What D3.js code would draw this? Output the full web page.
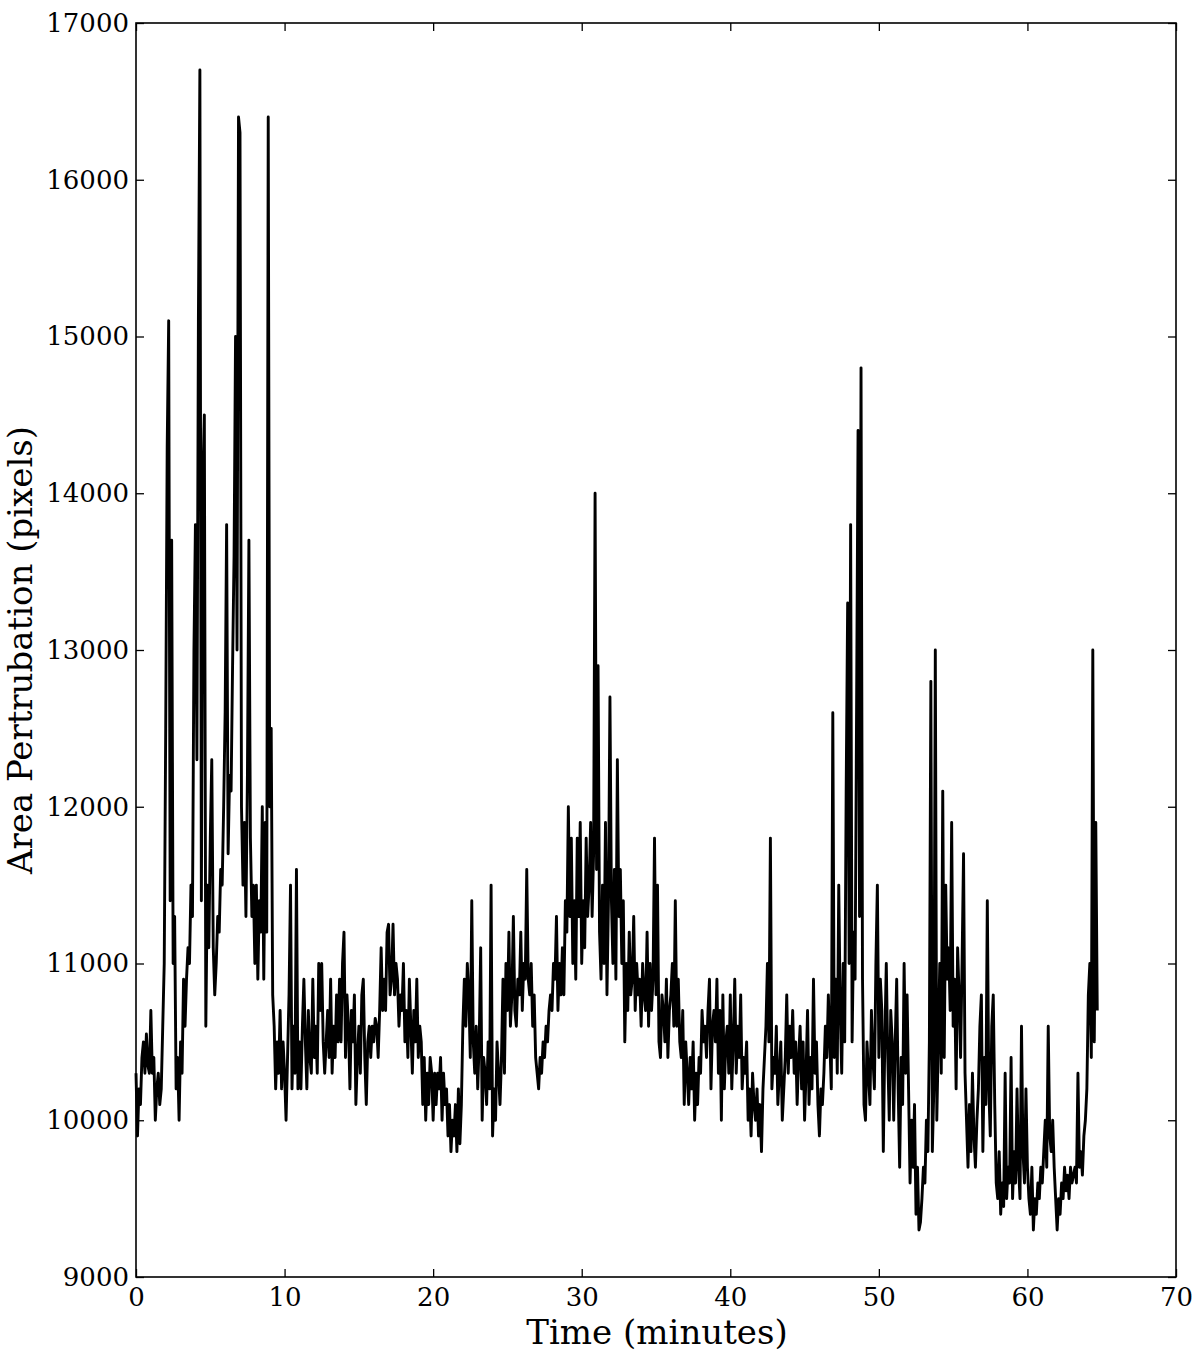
<!DOCTYPE html>
<html><head><meta charset="utf-8">
<script src="https://cdn.jsdelivr.net/npm/d3@7"></script>
<style>body{margin:0;background:#fff}svg{display:block}</style>
</head><body>
<script>
// Sampling: one value every 0.1 minute, starting at t = 0
const sampleStep = 0.1;
const areaValues = [
// 0
10300,9900,10200,10100,10400,10500,10300,10550,10350,10300,
// 1
10700,10300,10400,10000,10200,10300,10100,10200,10600,11000,
// 2
12500,14300,15100,11400,13700,11000,11300,10200,10400,10000,
// 3
10500,10300,10900,10600,10900,11100,11000,11500,11300,13000,
// 4
13800,12300,15100,16700,11400,14100,14500,10600,11500,11100,
// 5
11800,12300,11100,10800,11000,11300,11200,11600,11500,12000,
// 6
12600,13800,11700,12200,12100,12900,13600,15000,13000,16400,
// 7
16300,12000,11500,11900,11300,12200,13700,11800,11300,11500,
// 8
11000,11500,10900,11400,11200,12000,10900,11900,11200,16400,
// 9
12000,12500,10800,10600,10200,10500,10300,10700,10200,10500,
// 10
10300,10000,10400,10800,11500,10200,10600,10300,11600,10200,
// 11
10500,10200,10600,10900,10500,10200,10700,10400,10300,10900,
// 12
10400,10600,10300,11000,10700,11000,10500,10300,10500,10700,
// 13
10400,10900,10300,10600,10400,10800,10500,10900,10500,11000,
// 14
11200,10400,10800,10600,10200,10700,10500,10800,10100,10400,
// 15
10600,10300,10800,10900,10400,10100,10500,10600,10400,10600,
// 16
10500,10650,10600,10400,10700,11100,10700,10900,10700,11200,
// 17
11250,10800,10900,11250,10800,11000,10900,10600,10800,10700,
// 18
11000,10500,10700,10400,10900,10600,10300,10700,10500,10900,
// 19
10400,10600,10500,10100,10400,10000,10300,10100,10400,10300,
// 20
10000,10300,10100,10300,10200,10400,10000,10300,10100,10200,
// 21
9900,10100,9800,10000,9900,10100,9800,10200,9850,10100,
// 22
10600,10900,10600,11000,10800,10400,11400,10500,10300,10600,
// 23
10200,10500,11100,10000,10400,10300,10100,10500,10200,11500,
// 24
9900,10200,10000,10500,10300,10100,10400,10900,10300,11000,
// 25
10700,11200,10600,10800,11300,10700,10600,10900,10800,11200,
// 26
10700,11000,10900,11600,10900,10800,11000,10600,10800,10400,
// 27
10300,10200,10400,10300,10500,10400,10600,10500,10700,10800,
// 28
10700,11000,10900,11300,10700,11000,10800,11100,10800,11400,
// 29
11200,12000,11300,11800,11000,11400,10900,11800,11300,11900,
// 30
11000,11400,11100,11800,11300,11500,11900,11300,11700,14000,
// 31
11600,12900,11200,10900,11500,11000,11900,10800,11400,12700,
// 32
11400,11000,11600,10900,12300,11300,11600,11000,11400,10500,
// 33
11000,10700,11200,10800,10900,11300,10700,11000,10800,10900,
// 34
10600,11000,10800,10700,11200,10600,11000,10700,10900,11800,
// 35
10800,11500,10500,10400,10800,10700,10500,10900,10400,10700,
// 36
10800,11000,10600,11400,10600,10900,10500,10400,10700,10100,
// 37
10500,10300,10100,10400,10200,10500,10000,10300,10100,10400,
// 38
10300,10700,10500,10600,10400,10700,10900,10200,10600,10700,
// 39
10500,10900,10300,10700,10000,10800,10200,10500,10600,10300,
// 40
10800,10200,10500,10900,10300,10600,10400,10800,10200,10400,
// 41
10300,10500,10000,10200,9900,10300,10100,10000,10200,9900,
// 42
10100,9800,10200,10400,10600,11000,10500,11800,10200,10400,
// 43
10300,10600,10100,10300,10500,10000,10200,10400,10800,10300,
// 44
10600,10400,10700,10300,10500,10100,10400,10600,10200,10500,
// 45
10000,10300,10700,10100,10400,10200,10900,10300,10500,10100,
// 46
9900,10200,10100,10300,10600,10400,10800,10500,10200,12600,
// 47
10400,10900,10300,11500,10700,10300,11000,10500,12100,13300,
// 48
11000,13800,10500,11200,10900,12600,14400,11300,14800,10900,
// 49
10100,10000,10500,10300,10100,10700,10400,10200,11000,11500,
// 50
10400,10900,10700,9800,10500,11000,10400,10000,10700,10500,
// 51
10000,10500,10900,10200,9700,10400,10100,11000,10300,10800,
// 52
10200,9600,10000,9700,10100,9400,9700,9300,9350,9500,
// 53
9700,9600,10000,9800,10500,12800,9800,10200,13000,10000,
// 54
10500,11000,10300,12100,10400,11500,10900,11100,10700,11900,
// 55
10600,10900,10200,11100,10800,10400,11000,11700,10300,10000,
// 56
9700,10100,9800,10300,9900,9700,10000,10200,10600,10800,
// 57
9800,10400,10100,11400,10200,9900,10600,10800,10100,9600,
// 58
9500,9800,9400,9600,9450,10300,9500,9700,9600,10400,
// 59
9500,9800,9600,10200,9700,9500,10600,9800,9600,10200,
// 60
9700,9500,9400,9700,9300,9500,9400,9600,9500,9700,
// 61
9600,9800,10000,9700,10600,9900,9800,10000,9700,9500,
// 62
9300,9500,9400,9600,9500,9700,9550,9650,9500,9700,
// 63
9600,9650,9700,9600,10300,9700,9800,9650,9900,10000,
// 64
10200,10800,11000,10400,13000,10500,11900,10700
];
const xTicks = [0,10,20,30,40,50,60,70];
const yTicks = [9000,10000,11000,12000,13000,14000,15000,16000,17000];
const xLabel = "Time (minutes)";
const yLabel = "Area Pertrubation (pixels)";

const W = 1200, H = 1354;
const m = {left:136, right:24, top:23, bottom:77};
const svg = d3.select("body").append("svg").attr("width",W).attr("height",H);
const x = d3.scaleLinear().domain([0,70]).range([m.left, W-m.right]);
const y = d3.scaleLinear().domain([9000,17000]).range([H-m.bottom, m.top]);
const font = "'DejaVu Serif', serif";
const fmt = d3.format("d");

const data = areaValues.map((v,i)=>({t:i*sampleStep, v}));

svg.append("path").datum(data)
  .attr("fill","none").attr("stroke","#000").attr("stroke-width",2.9)
  .attr("stroke-linejoin","round")
  .attr("d", d3.line().x(d=>x(d.t)).y(d=>y(d.v)));

const tl = 8;
const gB = svg.append("g").attr("transform",`translate(0,${H-m.bottom})`)
  .call(d3.axisBottom(x).tickValues(xTicks).tickFormat(fmt).tickSizeInner(-tl).tickSizeOuter(0).tickPadding(11));
const gT = svg.append("g").attr("transform",`translate(0,${m.top})`)
  .call(d3.axisTop(x).tickValues(xTicks).tickSizeInner(-tl).tickSizeOuter(0).tickFormat(""));
const gL = svg.append("g").attr("transform",`translate(${m.left},0)`)
  .call(d3.axisLeft(y).tickValues(yTicks).tickFormat(fmt).tickSizeInner(-tl).tickSizeOuter(0).tickPadding(7));
const gR = svg.append("g").attr("transform",`translate(${W-m.right},0)`)
  .call(d3.axisRight(y).tickValues(yTicks).tickSizeInner(-tl).tickSizeOuter(0).tickFormat(""));
[gB,gT,gL,gR].forEach(g=>{
  g.select(".domain").remove();
  g.selectAll(".tick line").attr("stroke","#000").attr("stroke-width",1.3);
  g.selectAll("text").attr("font-family",font).attr("font-size",26).attr("fill","#000");
});
svg.append("rect").attr("x",m.left).attr("y",m.top)
  .attr("width",W-m.left-m.right).attr("height",H-m.top-m.bottom)
  .attr("fill","none").attr("stroke","#000").attr("stroke-width",1.6);

svg.append("text").attr("x",657).attr("y",H-10)
  .attr("text-anchor","middle").attr("font-family",font).attr("font-size",34).text(xLabel);
svg.append("text").attr("transform",`translate(32,${(m.top+H-m.bottom)/2}) rotate(-90)`)
  .attr("text-anchor","middle").attr("font-family",font).attr("font-size",34).text(yLabel);
</script>
</body></html>
